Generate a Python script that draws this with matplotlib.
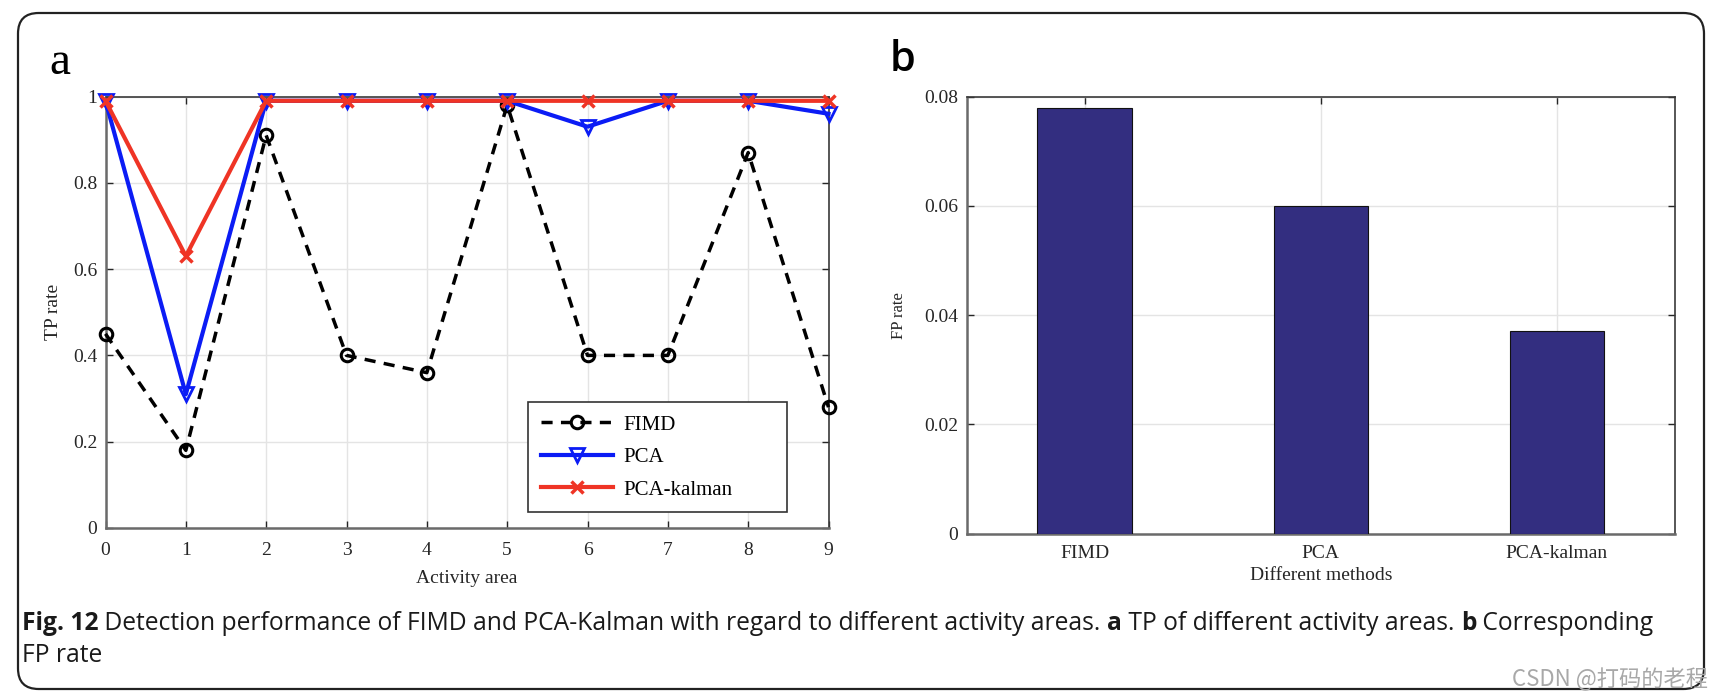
import matplotlib
matplotlib.use('Agg')
from matplotlib import pyplot as plt
from matplotlib.patches import FancyBboxPatch

# datos panel a
areas = [0, 1, 2, 3, 4, 5, 6, 7, 8, 9]
fimd_tp = [0.45, 0.18, 0.91, 0.40, 0.36, 0.98, 0.40, 0.40, 0.87, 0.28]
pca_tp = [0.99, 0.31, 0.99, 0.99, 0.99, 0.99, 0.93, 0.99, 0.99, 0.96]
kalman_tp = [0.99, 0.63, 0.99, 0.99, 0.99, 0.99, 0.99, 0.99, 0.99, 0.99]
tp_ticks = [0, 0.2, 0.4, 0.6, 0.8, 1]
tp_ticklabels = ['0', '0.2', '0.4', '0.6', '0.8', '1']

# datos panel b
methods = ['FIMD', 'PCA', 'PCA-kalman']
fp_rate = [0.078, 0.060, 0.037]
fp_ticks = [0, 0.02, 0.04, 0.06, 0.08]
fp_ticklabels = ['0', '0.02', '0.04', '0.06', '0.08']

caption1 = [('Fig. 12', 'bold'),
            (' Detection performance of FIMD and PCA-Kalman with regard to different activity areas. ', 'normal'),
            ('a', 'bold'),
            (' TP of different activity areas. ', 'normal'),
            ('b', 'bold'),
            (' Corresponding', 'normal')]
caption2 = 'FP rate'

W, H = 1722, 700
serif = 'Liberation Serif'
txtcol = '#262626'

fig = plt.figure(figsize=(W / 100, H / 100), dpi=100)

# marco redondeado
frame = FancyBboxPatch((18 / W, 11 / H), 1686 / W, 676 / H,
                       boxstyle='round,pad=0,rounding_size=0.012',
                       transform=fig.transFigure, facecolor='none',
                       edgecolor='#222222', linewidth=1.6, mutation_aspect=W / H)
fig.patches.append(frame)


def style_axes(ax, pad):
    """estilo tipo matlab"""
    ax.tick_params(direction='in', top=True, right=True, length=5, width=1,
                   colors=txtcol, labelsize=14, pad=6)
    ax.tick_params(axis='x', pad=pad)
    for lab in ax.get_xticklabels() + ax.get_yticklabels():
        lab.set_fontfamily(serif)
    for sp in ax.spines.values():
        sp.set_color('#3a3a3a')
        sp.set_linewidth(1.2)
    ax.spines['left'].set_color('#6a6a6a')
    ax.spines['bottom'].set_color('#6a6a6a')
    ax.spines['left'].set_linewidth(1.8)
    ax.spines['bottom'].set_linewidth(1.8)
    ax.grid(True, color='#e4e4e4', linewidth=1)
    ax.set_axisbelow(True)


# Panel a
ax1 = fig.add_axes([105.5 / W, 1 - 528 / H, 723 / W, 431.5 / H])
ax1.plot(areas, fimd_tp, color='black', linestyle=(0, (3.2, 2.4)), linewidth=2.5,
         marker='o', markersize=9, markerfacecolor='none', markeredgewidth=2.2,
         label='FIMD', clip_on=False, zorder=3)
ax1.plot(areas, pca_tp, color='#0b1cf5', linewidth=3, marker='v', markersize=10,
         markerfacecolor='none', markeredgewidth=2, label='PCA', clip_on=False, zorder=4)
ax1.plot(areas, kalman_tp, color='#ef3425', linewidth=3, marker='x', markersize=8,
         markeredgewidth=2.5, label='PCA-kalman', clip_on=False, zorder=5)
ax1.set_xlim(0, 9)
ax1.set_ylim(0, 1)
ax1.set_xticks(areas)
ax1.set_yticks(tp_ticks)
ax1.set_yticklabels(tp_ticklabels)
style_axes(ax1, 10)
ax1.set_xlabel('Activity area', fontfamily=serif, fontsize=14, color=txtcol, labelpad=8)
ax1.set_ylabel('TP rate', fontfamily=serif, fontsize=14, color=txtcol, labelpad=8)
leg = ax1.legend(loc='lower left', bbox_to_anchor=(0.5844, 0.037, 0.358, 0.257),
                 mode='expand', borderaxespad=0, fancybox=False,
                 prop={'family': serif, 'size': 15}, handlelength=3.5, handletextpad=0.5,
                 borderpad=0.6, labelspacing=0.62, framealpha=1)
leg.get_frame().set_edgecolor('#333333')
leg.get_frame().set_linewidth(1.2)

# Panel b
ax2 = fig.add_axes([966.5 / W, 1 - 533.6 / H, 708.5 / W, 437 / H])
pos = [1, 2, 3]
ax2.bar(pos, fp_rate, width=0.4, color='#332e80', edgecolor='#111111', linewidth=0.8, zorder=3)
ax2.set_xlim(0.5, 3.5)
ax2.set_ylim(0, 0.08)
ax2.set_xticks(pos)
ax2.set_xticklabels(methods)
ax2.set_yticks(fp_ticks)
ax2.set_yticklabels(fp_ticklabels)
style_axes(ax2, 8)
ax2.set_xlabel('Different methods', fontfamily=serif, fontsize=14, color=txtcol, labelpad=4)
ax2.set_ylabel('FP rate', fontfamily=serif, fontsize=12, color=txtcol, labelpad=12)

# letras de panel
fig.text(49 / W, 1 - 63 / H, 'a', fontfamily=serif, fontsize=34, ha='left', va='center')
fig.text(890 / W, 1 - 60 / H, 'b', fontfamily='Open Sans', fontweight='semibold',
         fontsize=30, ha='left', va='center')

# pie de figura
renderer = fig.canvas.get_renderer()
x = 22 / W
y1 = 1 - 623 / H
for txt, weight in caption1:
    t = fig.text(x, y1, txt, fontfamily='Open Sans', fontweight=weight, fontsize=17.75,
                 color='#1a1a1a', va='center', ha='left')
    bb = t.get_window_extent(renderer)
    x = bb.x1 / fig.bbox.width
fig.text(22 / W, 1 - 655 / H, caption2, fontfamily='Open Sans', fontsize=17.75,
         color='#1a1a1a', va='center', ha='left')

# marca de agua
fig.text(1708 / W, 1 - 679 / H, 'CSDN @打码的老程', family=['Noto Sans CJK SC', 'DejaVu Sans'],
         fontsize=16, color='#a8a8a8', ha='right', va='center')

plt.savefig('out.png', dpi=100)
